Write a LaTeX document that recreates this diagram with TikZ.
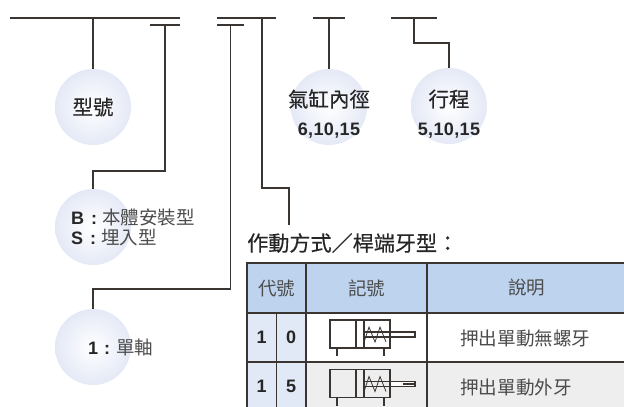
\documentclass[tikz,border=0pt]{standalone}
\usepackage{fontspec}
\setmainfont{Liberation Sans}
\newfontfamily\cjk{Noto Sans CJK TC}
\newfontfamily\cjkm[FakeBold=0.35]{Noto Sans CJK TC}
\usetikzlibrary{positioning}
\definecolor{inkline}{HTML}{3B3532}
\definecolor{headblue}{HTML}{BDD3EE}
\definecolor{codeblue}{HTML}{E1E8F6}
\definecolor{rowgrey}{HTML}{EEEEEE}
\definecolor{bubbleblue}{HTML}{E4E9F6}
\tikzstyle{line} = [draw = inkline, line width = 1.1pt]
\tikzstyle{bar} = [rectangle, fill = inkline, inner sep = 0pt, minimum height = 1.3pt]
\tikzstyle{bubble} = [circle, minimum size = 76pt, inner sep = 0pt, %
                      inner color = white, outer color = bubbleblue]
\tikzstyle{label} = [inner sep = 0pt, text = black!85, font = \fontsize{18.5}{21}\selectfont]
\tikzstyle{heading} = [label, font = \cjkm\fontsize{20.5}{23}\selectfont]
\tikzstyle{cell} = [rectangle, draw = inkline, line width = 1.2pt, inner sep = 0pt, %
                    text = black!70, font = \fontsize{18.5}{21}\selectfont]
\tikzstyle{code} = [cell, fill = codeblue, minimum width = 29.5pt, minimum height = 49pt, %
                    text = black!85, font = \bfseries\fontsize{18}{21}\selectfont]
\tikzstyle{symb} = [draw = inkline, line width = 1.1pt]
\newcommand{\bnum}[1]{{\bfseries\fontsize{18}{21}\selectfont #1}}
\newcommand{\thinzh}[1]{{\cjk\color{black!70}#1}}

\begin{document}
\begin{tikzpicture}[x = 1pt, y = -1pt]
      \path [use as bounding box, clip] (0,0) rectangle (624,407);
      % Bars
      \node (barA) [bar, minimum width = 170pt] at (95,18) {};
      \node (barB) [bar, minimum width = 30pt] at (165,25) {};
      \node (barC) [bar, minimum width = 27pt] at (230.5,25) {};
      \node (barD) [bar, minimum width = 59pt] at (246.5,18) {};
      \node (barE) [bar, minimum width = 32pt] at (329,18) {};
      \node (barF) [bar, minimum width = 46pt] at (414,18) {};
      % Bubbles
      \node (model) [bubble] at (93,107) {};
      \node (mount) [bubble] at (93,227) {};
      \node (shaft) [bubble] at (93,347) {};
      \node (bore) [bubble] at (329,107) {};
      \node (stroke) [bubble] at (449,106) {};
      % Bubble texts
      \node (modelText) [heading] at (model) {型號};
      \node (boreText) [heading] at (329,99) {氣缸內徑};
      \node (boreNum) [label] at (329,131) {\bnum{\addfontfeature{LetterSpace=2}6,10,15}};
      \node (strokeText) [heading] at (449,99) {行程};
      \node (strokeNum) [label] at (449,131) {\bnum{\addfontfeature{LetterSpace=2}5,10,15}};
      \node (mountB) [label, anchor = west] at (71,217) {\bnum{B}\hspace{7pt}\bnum{:}\hspace{5pt}\thinzh{本體安裝型}};
      \node (mountS) [label, anchor = west] at (71,238) {\bnum{S}\hspace{7pt}\bnum{:}\hspace{5pt}\thinzh{埋入型}};
      \node (shaftText) [label, anchor = west] at (88,347) {\bnum{1}\hspace{6pt}\bnum{:}\hspace{6pt}\thinzh{單軸}};
      % Connectors
      \node (title) [heading, anchor = west, font = \cjkm\fontsize{21.1}{23}\selectfont] at (247,243) {作動方式／桿端牙型：};
      \coordinate (titleTop) at (289,225);
      \draw [line] (barA -| model) -- (model);
      \draw [line] (barB) |- (0,171 -| barB) -| (mount);
      \draw [line] (barC) -- (barC |- 0,289) -| (shaft);
      \draw [line] ([xshift = 15.5pt]barD.center) |- (titleTop |- 0,188) -- (titleTop);
      \draw [line] (barE) -- (bore);
      \draw [line] (barF) |- (0,43 -| stroke) -- (stroke);
      % Table
      \node (headCode) [cell, fill = headblue, minimum width = 59pt, minimum height = 50pt] at (276.5,288) {\cjk 代號};
      \node (headSym) [cell, fill = headblue, minimum width = 121pt, minimum height = 50pt] at (366.5,288) {\cjk 記號};
      \node (headDesc) [cell, fill = headblue, minimum width = 199pt, minimum height = 50pt] at (526.5,288) {\cjk 說明};
      \node (codeA1) [code] at (261.75,337.5) {1};
      \node (codeA2) [code] at (291.25,337.5) {0};
      \node (symA) [cell, fill = white, minimum width = 121pt, minimum height = 49pt] at (366.5,337.5) {};
      \node (descA) [cell, fill = white, minimum width = 199pt, minimum height = 49pt] at (526.5,337.5) {};
      \node (codeB1) [code] at (261.75,386.5) {1};
      \node (codeB2) [code] at (291.25,386.5) {5};
      \node (symB) [cell, fill = rowgrey, minimum width = 121pt, minimum height = 49pt] at (366.5,386.5) {};
      \node (descB) [cell, fill = rowgrey, minimum width = 199pt, minimum height = 49pt] at (526.5,386.5) {};
      \node (descAText) [label, anchor = west, text = black!70, font = \cjk\fontsize{18.6}{21}\selectfont] at (460,338) {押出單動無螺牙};
      \node (descBText) [label, anchor = west, text = black!70, font = \cjk\fontsize{18.6}{21}\selectfont] at (460,387) {押出單動外牙};
      % Symbols
      \foreach \dy in {0,49.5} {
        \begin{scope}[yshift = -\dy pt]
          \draw [symb, fill = white] (390,332) rectangle (415,337);
          \draw [symb] (330,320) rectangle (390,348);
          \draw [symb] (356,320) -- (356,348);
          \draw [symb] (364,320) -- (364,348);
          \draw [symb] (364,332) -- (390,332);
          \draw [symb] (364,337) -- (390,337);
          \draw [symb, line width = 0.8pt] (364,342) -- (369,327) -- (375,342) -- (380,327) -- (386,342);
          \draw [symb] (337,348) -- (337,356);
          \draw [symb] (384,348) -- (384,356);
        \end{scope}
      }
      \draw [inkline, line width = 1.6pt] (403,384) -- (415,384);
\end{tikzpicture}
\end{document}
